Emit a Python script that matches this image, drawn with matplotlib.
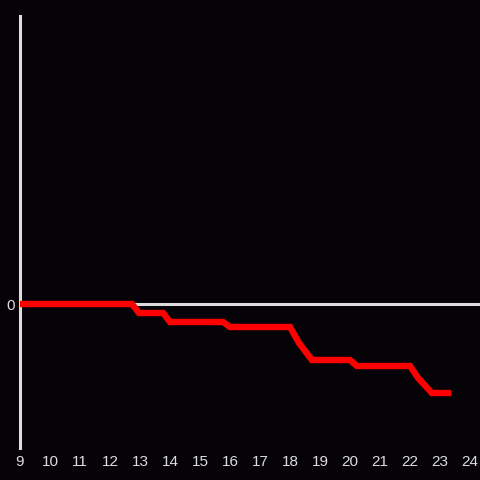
import matplotlib
matplotlib.use("Agg")
import matplotlib.pyplot as plt

hours = [9.0, 12.73, 12.97, 13.77, 14.0, 15.77, 16.0, 18.0, 18.3, 18.73, 20.0, 20.23, 22.0, 22.27, 22.73, 23.27]
values = [0, 0, -9, -9, -18, -18, -23, -23, -39, -56, -56, -62, -62, -74, -89, -89]
xticks = list(range(9, 25))

bg = "#050308"
fg = "#dddddd"

fig = plt.figure(figsize=(4.8, 4.8), dpi=100, facecolor=bg)
ax = fig.add_axes([20/480, 32/480, 460/480, 432/480], facecolor=bg)
ax.set_xlim(9, 9 + 460/30)
ax.set_ylim(-144, 288)

for s in ["top", "right", "bottom"]:
    ax.spines[s].set_visible(False)
ax.spines["left"].set_color(fg)
ax.spines["left"].set_linewidth(2.2)

ax.axhline(0, color=fg, lw=2.2, zorder=1)
ax.plot(hours, values, color="#ff0000", lw=4.6, solid_joinstyle="miter", zorder=3)

ax.set_xticks(xticks)
ax.set_xticklabels([str(t) for t in xticks])
ax.set_yticks([0])
ax.set_yticklabels(["0"])
ax.tick_params(axis="both", length=0, colors=fg, labelsize=11, labelfontfamily="Liberation Sans")
ax.tick_params(axis="x", pad=5)
ax.tick_params(axis="y", pad=4)

fig.savefig("out.png", dpi=100, facecolor=bg)
